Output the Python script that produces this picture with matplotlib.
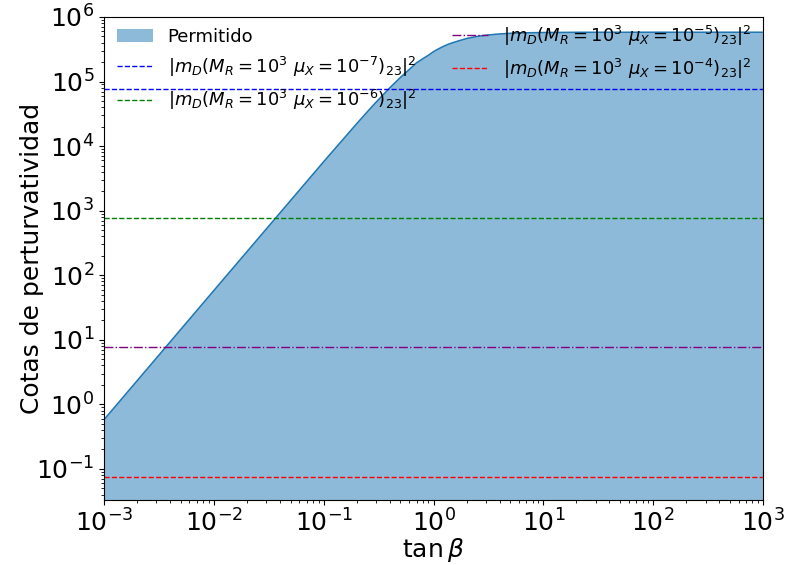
import numpy as np
import matplotlib.pyplot as plt

# Perturbativity bound vs tan(beta)
tanb = [1e-3, 1e-2, 1e-1, 0.15, 0.2, 0.25, 0.3, 0.4, 0.5, 0.6, 0.7, 0.8, 0.9, 1.0,
        1.1, 1.2, 1.35, 1.5, 1.75, 2.0, 2.5, 3.0, 4.0, 5.0, 7.0, 10.0, 20.0, 100.0, 1000.0]
cota = [0.58, 58, 5.74e3, 1.27e4, 2.23e4, 3.41e4, 4.79e4, 8.0e4, 1.16e5, 1.53e5,
        1.95e5, 2.26e5, 2.56e5, 2.9e5, 3.18e5, 3.43e5, 3.76e5, 4.0e5, 4.34e5,
        4.64e5, 5.0e5, 5.22e5, 5.46e5, 5.58e5, 5.69e5, 5.74e5, 5.79e5, 5.8e5, 5.8e5]

# |m_D|^2 for M_R = 10^3 and several mu_X
mu_exp = [-7, -6, -5, -4]
mD2 = [7.6e4, 7.6e2, 7.6, 0.076]
estilos = [('blue', '--'), ('green', '--'), ('purple', '-.'), ('red', '--')]

fig = plt.figure(figsize=(7.85, 5.65), dpi=100)
ax = fig.add_axes([0.1325, 0.115, 0.8395, 0.855])

ax.fill_between(tanb, cota, 1e-3, color='C0', alpha=0.5, linewidth=0, label='Permitido')
ax.plot(tanb, cota, color='C0', lw=1.1)

for e, v, (c, ls) in zip(mu_exp, mD2, estilos):
    ax.axhline(v, color=c, ls=ls, lw=1,
               label=r'$|m_D(M_R=10^3\ \mu_X=10^{%d})_{23}|^2$' % e)

ax.set_xscale('log')
ax.set_yscale('log')
ax.set_xlim(1e-3, 1e3)
ax.set_ylim(0.033, 1e6)
ax.set_xlabel(r'$\tan\beta$', fontsize=18, labelpad=-1)
ax.set_ylabel('Cotas de perturvatividad', fontsize=18, labelpad=-6)
ax.tick_params(labelsize=18)

ax.legend(ncol=2, frameon=False, fontsize=13, loc='upper left',
          bbox_to_anchor=(-0.005, 1.02))

plt.savefig('out.png', dpi=100)
